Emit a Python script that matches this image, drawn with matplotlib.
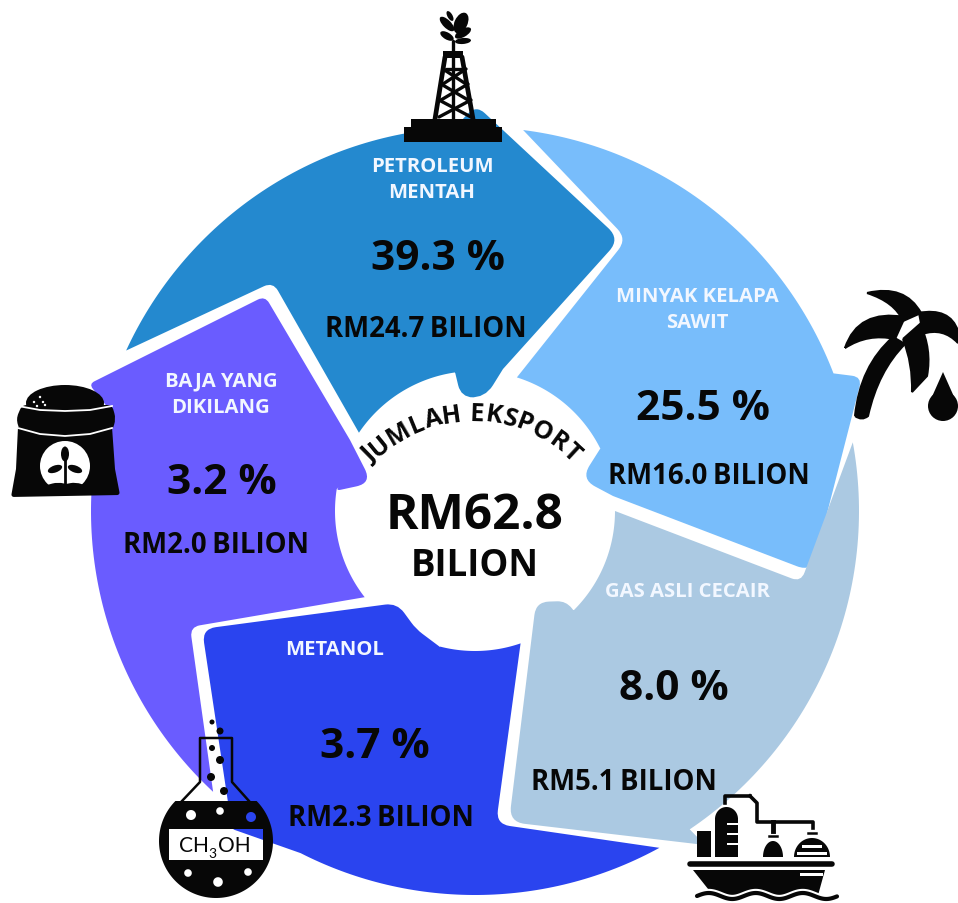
"""Jumlah eksport infographic, drawn in image pixel coordinates."""
import numpy as np
import matplotlib
matplotlib.use("Agg")
import matplotlib.pyplot as plt
from matplotlib.patches import Circle, Ellipse, PathPatch, Rectangle
from matplotlib.path import Path
from matplotlib.textpath import TextPath
from matplotlib.font_manager import FontProperties

plt.rcParams["font.family"] = ["Open Sans", "DejaVu Sans"]

# data
CATEGORIES = ["PETROLEUM\nMENTAH", "MINYAK KELAPA\nSAWIT", "GAS ASLI CECAIR", "METANOL", "BAJA YANG\nDIKILANG"]
PERCENTS = [39.3, 25.5, 8.0, 3.7, 3.2]
AMOUNTS = [24.7, 16.0, 5.1, 2.3, 2.0]
TOTAL = 62.8

COLORS = ["#2489cf", "#78bdfb", "#abc9e2", "#2a44ef", "#6a5cff"]
NAME_POS = [(432, 180), (697, 310), (688, 592), (335, 650), (221, 395)]
PCT_POS = [(438, 260), (703, 410), (674, 690), (375, 748), (222, 484)]
AMT_POS = [(426, 330), (709, 477), (624, 783), (381, 819), (216, 546)]

W, H = 958, 904
CX, CY = 475, 512
R_OUT, R_IN = 384, 140
BLACK = "#070707"


def arc(r, a0, a1, n=70):
    # angles in degrees, clockwise from 12 o'clock
    t = np.radians(np.linspace(a0, a1, n))
    return [(CX + r * np.sin(v), CY - r * np.cos(v)) for v in t]


def rounded(points):
    # points are (x, y) or (x, y, corner radius)
    pts = [(p[0], p[1], p[2] if len(p) > 2 else 0) for p in points]
    verts, codes = [], []
    n = len(pts)
    for i, (x, y, r) in enumerate(pts):
        v = np.array([x, y], float)
        if r > 0:
            a = np.array(pts[i - 1][:2], float)
            b = np.array(pts[(i + 1) % n][:2], float)
            p0 = v + (a - v) / np.linalg.norm(a - v) * r
            p2 = v + (b - v) / np.linalg.norm(b - v) * r
            verts += [p0, v, p2]
            codes += [Path.LINETO, Path.CURVE3, Path.CURVE3]
        else:
            verts.append(v)
            codes.append(Path.LINETO)
    codes[0] = Path.MOVETO
    verts.append(verts[0])
    codes.append(Path.CLOSEPOLY)
    return Path(verts, codes)


def draw_segments(ax):
    outlines = [
        arc(R_OUT, -65.3, -3) + [(476, 106, 12), (620, 240, 16), (503, 370), (485, 399, 15), (461, 398, 12), (455, 373)]
        + arc(R_IN, -8, -56) + [(273, 283, 10)],
        arc(R_OUT, 7.2, 69) + [(862, 378, 10), (812, 573, 16), (613, 497), (581, 480, 16), (600, 450)]
        + arc(R_IN, 63.6, 17.4) + [(627, 240, 14)],
        arc(R_OUT, 79.7, 146) + [(705, 846, 4), (509, 823, 16), (536, 603, 13), (566, 602, 9), (574, 612)]
        + arc(R_IN, 136, 90) + [(801, 583, 10)],
        arc(R_OUT, 151.3, 207) + [(232, 830, 3), (202, 630, 14), (397, 604, 12), (416, 630, 8), (440, 648)]
        + arc(R_IN, 194.4, 161) + [(496, 825, 14)],
        arc(R_OUT, 223, 286) + [(89, 385, 6), (265, 297, 8), (350, 441), (372, 484, 16), (335, 492, 6)]
        + arc(R_IN, 279, 232) + [(190, 628, 10)],
    ]
    for outline, color in zip(outlines, COLORS):
        ax.add_patch(PathPatch(rounded(outline), fc=color, ec="none", zorder=1))


def draw_labels(ax):
    for i, name in enumerate(CATEGORIES):
        ax.text(*NAME_POS[i], name, color="#f2f7ff", fontsize=14.6, fontweight="bold", ha="center", va="center",
                linespacing=1.43, zorder=5)
        ax.text(*PCT_POS[i], f"{PERCENTS[i]:.1f} %", color=BLACK, fontsize=30.5, fontweight="bold", ha="center",
                va="center", zorder=5)
        ax.text(*AMT_POS[i], f"RM{AMOUNTS[i]:.1f}\u2009BILION", color=BLACK, fontsize=19.8, fontweight="bold",
                ha="center", va="center", zorder=5)
    ax.text(475, 517, f"RM{TOTAL:.1f}", color=BLACK, fontsize=35.6, fontweight="bold", ha="center", va="center", zorder=5)
    ax.text(475, 566, "BILION", color=BLACK, fontsize=26.3, fontweight="bold", ha="center", va="center", zorder=5)


def draw_curved_title(ax, text="JUMLAH EKSPORT", cx=472, cy=560, r=139, size=18.2):
    prop = FontProperties(family="Open Sans", weight="bold", size=size)
    # text path size is in points, screen pixels are points / 0.72
    widths = []
    for i in range(len(text)):
        w_to = TextPath((0, 0), text[:i + 1].replace(" ", "i"), prop=prop).get_extents().x1
        widths.append(w_to / 0.72)
    edges = [0] + widths
    total = edges[-1]
    for i, ch in enumerate(text):
        mid = (edges[i] + edges[i + 1]) / 2 - total / 2
        a = mid / r
        ax.text(cx + r * np.sin(a), cy - r * np.cos(a), ch, rotation=-np.degrees(a), rotation_mode="anchor",
                ha="center", va="baseline", fontproperties=prop, color=BLACK, zorder=5)


def draw_rig(ax):
    ax.add_patch(Rectangle((404, 128), 98, 15, fc=BLACK, zorder=6))
    ax.add_patch(Rectangle((411, 120), 85, 9, fc=BLACK, zorder=6))
    ax.add_patch(Rectangle((443, 52), 20, 7, fc=BLACK, zorder=6))
    kw = dict(color=BLACK, lw=3.4, zorder=6, solid_capstyle="round")
    ax.plot([445, 435], [58, 120], **kw)
    ax.plot([462, 473], [58, 120], **kw)
    kw["lw"] = 2.4
    ax.plot([453, 453], [42, 120], **kw)
    for y0, y1, x0, x1 in [(70, 85, 443, 466), (85, 101, 441, 468), (101, 118, 439, 471)]:
        ax.plot([x0, x1], [y0, y1], **kw)
        ax.plot([x1, x0], [y0, y1], **kw)
    ax.plot([446, 461], [70, 70], **kw)
    for x, y, w, h, ang in [(461, 24, 13, 22, 25), (463, 34, 8, 18, 60), (463, 42, 6, 16, 85), (447, 25, 8, 19, 135),
                            (447, 37, 7, 15, 120), (450, 17, 5, 11, 150)]:
        ax.add_patch(Ellipse((x, y), w, h, angle=ang, fc=BLACK, zorder=6))


def draw_palm(ax):
    M, C, L = Path.MOVETO, Path.CURVE3, Path.LINETO
    shapes = [
        # trunk
        ([(855, 417), (860, 367), (893, 338), (905, 345), (878, 372), (868, 417), (862, 422), (855, 417)],
         [M, C, C, L, C, C, C, C]),
        # left frond
        ([(845, 349), (858, 310), (905, 318), (895, 340), (868, 334), (845, 349)], [M, C, C, L, C, C]),
        # top frond
        ([(867, 294), (905, 285), (921, 314), (903, 322), (895, 303), (867, 294)], [M, C, C, L, C, C]),
        # right frond
        ([(918, 314), (950, 308), (958, 332), (958, 344), (943, 328), (922, 335)], [M, C, C, L, C, C]),
        # middle frond
        ([(903, 340), (920, 325), (932, 350), (927, 377), (912, 393), (913, 365), (903, 340)], [M, L, C, C, L, C, C]),
    ]
    for verts, codes in shapes:
        ax.add_patch(PathPatch(Path(verts, codes), fc=BLACK, ec=BLACK, lw=1.5, zorder=6))
    ax.add_patch(Circle((943, 407), 15, fc=BLACK, zorder=6))
    ax.add_patch(PathPatch(Path([(943, 373), (931, 400), (955, 400), (943, 373)]), fc=BLACK, ec="none", zorder=6))


def draw_bag(ax):
    ax.add_patch(PathPatch(rounded([(18, 428), (112, 428), (115, 470), (120, 496, 3), (11, 498, 3), (16, 470)]),
                           fc=BLACK, ec="none", zorder=6))
    ax.add_patch(PathPatch(rounded([(22, 406, 5), (112, 406, 5), (116, 420, 6), (112, 432, 4), (20, 432, 4), (16, 420, 6)]),
                           fc=BLACK, ec="none", zorder=6))
    ax.add_patch(Ellipse((65, 404), 78, 36, fc=BLACK, zorder=6))
    xs = np.array([18, 40, 65, 90, 112])
    ax.plot(xs, [407, 411, 412, 411, 407], color="white", lw=1.3, zorder=7)
    ax.plot(xs, [429, 435, 437, 435, 429], color="white", lw=1.3, zorder=7)
    for x, y in [(34, 403), (40, 398), (43, 403), (37, 407), (45, 406)]:
        ax.add_patch(Circle((x, y), 1.2, fc="white", zorder=7))
    ax.add_patch(Circle((65, 467), 25, fc="white", zorder=7))
    ax.add_patch(PathPatch(rounded([(47, 486), (58, 483, 6), (66, 485), (76, 483, 6), (84, 486), (76, 494), (54, 494)]),
                           fc=BLACK, ec="none", zorder=8))
    ax.plot([65, 65], [458, 484], color=BLACK, lw=2, zorder=8)
    for x, y, w, h, ang in [(65, 455, 8, 15, 0), (55, 470, 7, 15, 70), (75, 470, 7, 15, -70)]:
        ax.add_patch(Ellipse((x, y), w, h, angle=ang, fc=BLACK, zorder=8))


def ring(cx, cy, r):
    t = np.linspace(0, 2 * np.pi, 40)
    return Path(np.column_stack([cx + r * np.cos(t), cy + r * np.sin(t)]))


def draw_flask(ax):
    cx, cy, r = 216, 842, 57
    start = np.arcsin((802 - cy) / r)
    t = np.linspace(start, np.pi - start, 120)
    outer = np.column_stack([cx + r * np.cos(t), cy + r * np.sin(t)])
    parts = [Path(np.vstack([outer, outer[:1]]))]
    parts.append(Path([(169, 830), (169, 861), (263, 861), (263, 830), (169, 830)]))
    for x, y, rad in [(191, 816, 5), (220, 812, 3.8), (251, 818, 5), (188, 874, 3.8), (218, 883, 4.8), (248, 873, 3.8)]:
        parts.append(ring(x, y, rad))
    # outer runs with increasing angle, so holes have to run the other way round
    fixed = [parts[0]]
    for p in parts[1:]:
        v = p.vertices
        area = 0.5 * np.sum(v[:-1, 0] * v[1:, 1] - v[1:, 0] * v[:-1, 1])
        fixed.append(Path(v if area < 0 else v[::-1]))
    ax.add_patch(PathPatch(Path.make_compound_path(*fixed), fc=BLACK, ec="none", zorder=6))
    kw = dict(color=BLACK, lw=1.8, zorder=6)
    ax.plot([182, 200, 200, 232, 232, 249], [802, 783, 739, 739, 783, 802], **kw)
    for x, y, rad in [(212, 723, 2.5), (220, 732, 3.5), (212, 749, 3), (220, 761, 4), (211, 778, 4), (224, 792, 4)]:
        ax.add_patch(Circle((x, y), rad, fc=BLACK, zorder=6))
    ax.text(179, 846, "CH", color=BLACK, fontsize=15, family="Lato", ha="left", va="center", zorder=7)
    ax.text(208, 854, "3", color=BLACK, fontsize=10, family="Lato", ha="left", va="center", zorder=7)
    ax.text(218, 846, "OH", color=BLACK, fontsize=15, family="Lato", ha="left", va="center", zorder=7)


def half_dome(cx, base, hw, h):
    t = np.linspace(np.pi, 2 * np.pi, 40)
    return np.column_stack([cx + hw * np.cos(t), base + h * np.sin(t)])


def draw_ship(ax):
    ax.add_patch(Rectangle((697, 832), 14, 26, fc=BLACK, zorder=6))
    ax.add_patch(PathPatch(Path(np.vstack([half_dome(726.5, 820, 11.5, 12), [(738, 858), (715, 858)]])), fc=BLACK, ec="none", zorder=6))
    ax.add_patch(Rectangle((715, 819), 23, 39, fc=BLACK, zorder=6))
    for y in (824, 834, 844):
        ax.add_patch(Rectangle((727, y), 12, 2.2, fc="white", zorder=7))
    ax.plot([725, 725, 750], [804, 797, 797], color=BLACK, lw=2.6, zorder=6)
    ax.plot([750, 757, 757, 813, 813], [797, 804, 823, 823, 829], color=BLACK, lw=2.6, zorder=6)
    ax.plot([773, 773], [823, 832], color=BLACK, lw=3.5, zorder=6)
    ax.plot([769, 777], [837, 837], color=BLACK, lw=1.8, zorder=6)
    ax.plot([808, 816], [834, 834], color=BLACK, lw=1.8, zorder=6)
    ax.add_patch(PathPatch(Path(half_dome(773, 858, 10, 16)), fc=BLACK, ec="none", zorder=6))
    ax.add_patch(PathPatch(Path(half_dome(812, 858, 18, 19)), fc=BLACK, ec="none", zorder=6))
    ax.add_patch(Rectangle((802, 846), 20, 3, fc="white", zorder=7))
    ax.add_patch(Rectangle((797, 853), 30, 2.5, fc="white", zorder=7))
    ax.plot([690, 832], [864.5, 864.5], color=BLACK, lw=4, solid_capstyle="round", zorder=6)
    ax.add_patch(PathPatch(Path([(693, 871), (825, 871), (817, 900), (716, 900), (693, 871)]), fc=BLACK, ec="none", zorder=6))
    ax.add_patch(Rectangle((800, 874), 23, 3, fc="white", zorder=7))
    xw = np.linspace(697, 837, 120)
    yw = 897 + 3 * np.sin((xw - 697) / 47 * 2 * np.pi + np.pi)
    ax.fill_between(xw, yw, 904, color="white", zorder=7)
    ax.plot(xw, yw, color="white", lw=6, zorder=7)
    ax.plot(xw, yw, color=BLACK, lw=3, zorder=8, solid_capstyle="round")


def main():
    fig = plt.figure(figsize=(W / 100, H / 100), dpi=100)
    ax = fig.add_axes([0, 0, 1, 1])
    ax.set_xlim(0, W)
    ax.set_ylim(H, 0)
    ax.axis("off")
    draw_segments(ax)
    draw_labels(ax)
    draw_curved_title(ax)
    draw_rig(ax)
    draw_palm(ax)
    draw_bag(ax)
    draw_flask(ax)
    draw_ship(ax)
    fig.savefig("out.png", dpi=100, facecolor="white")
    plt.close(fig)


if __name__ == "__main__":
    main()
